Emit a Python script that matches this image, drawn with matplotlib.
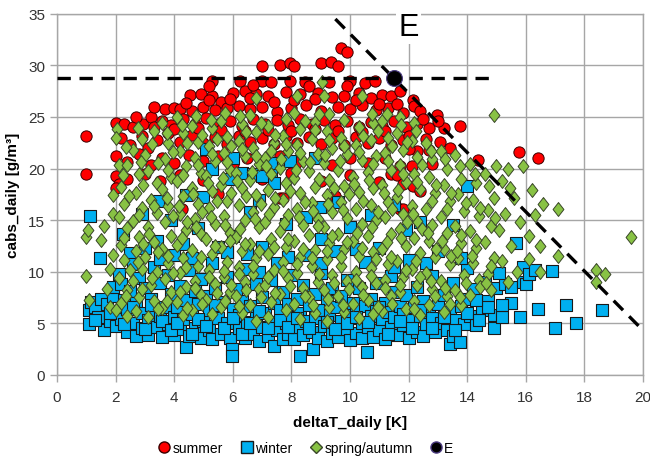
import numpy as np
import matplotlib
matplotlib.use("Agg")
import matplotlib.pyplot as plt
from matplotlib.lines import Line2D

plt.rcParams['font.family'] = ['Liberation Sans Narrow', 'Liberation Sans', 'DejaVu Sans']

# summer (red circles)
summer = [
    (9.7, 31.7), (9.9, 31.3), (9.0, 30.2), (9.35, 30.3), (9.6, 29.9), (7.0, 29.9), (7.6, 30.0), (7.95, 30.2), (8.1, 29.9),
    (5.3, 28.5), (6.25, 28.5), (7.0, 28.5), (7.3, 28.4), (7.95, 28.5), (8.45, 28.4), (8.6, 28.0), (9.3, 28.4), (10.0, 28.5),
    (10.5, 28.3), (10.85, 28.5), (9.9, 28.0),
    (4.55, 27.1), (4.9, 27.2), (5.3, 27.0), (5.6, 26.5), (6.0, 27.3), (6.4, 27.5), (6.8, 27.2), (7.2, 27.0), (7.8, 27.4),
    (8.3, 27.2), (8.9, 27.3), (9.4, 26.9), (10.3, 27.3), (10.7, 26.8), (11.1, 27.1), (11.4, 27.0), (11.7, 27.5), (12.15, 26.6),
    (12.2, 26.1),
    (3.7, 25.8), (4.0, 25.9), (4.2, 25.8), (4.6, 25.6), (5.0, 26.0), (5.4, 25.7), (5.8, 25.9), (6.2, 26.1), (6.6, 25.8),
    (7.0, 26.0), (7.5, 25.5), (8.0, 25.9), (8.5, 26.2), (9.0, 25.6), (9.6, 26.0), (10.0, 25.8), (10.4, 26.2), (10.9, 25.7),
    (11.3, 25.9), (11.8, 25.4), (12.4, 25.6), (12.97, 25.2),
    (2.0, 24.4), (2.3, 24.3), (2.6, 24.0), (2.95, 24.3), (3.2, 25.0), (3.3, 24.0), (3.6, 24.6), (3.9, 24.2), (4.3, 24.8),
    (4.7, 24.3), (5.1, 24.9), (5.5, 24.3), (5.9, 24.6), (6.3, 24.1), (6.7, 24.8), (7.1, 24.3), (7.5, 24.7), (7.9, 24.2),
    (8.3, 24.8), (8.7, 24.3), (9.1, 24.7), (9.5, 24.2), (9.9, 24.6), (10.3, 24.0), (10.7, 24.5), (11.1, 24.1), (11.5, 24.6),
    (11.9, 24.0), (12.3, 24.3), (12.7, 23.9), (13.2, 23.9), (13.75, 24.1),
    (2.2, 23.0), (2.5, 22.3), (2.9, 23.2), (3.1, 22.0), (3.4, 22.8), (3.8, 23.4), (4.2, 22.6), (4.6, 23.3), (5.0, 22.5),
    (5.4, 23.1), (5.8, 22.4), (6.2, 23.2), (6.6, 22.6), (7.0, 23.0), (7.4, 22.4), (7.8, 23.2), (8.2, 22.5), (8.6, 23.1),
    (9.0, 22.4), (9.4, 23.0), (9.8, 22.3), (10.2, 23.1), (10.6, 22.5), (11.0, 23.0), (11.4, 22.3), (11.8, 22.8), (12.3, 21.7),
    (12.7, 21.8), (13.07, 22.6),
    (2.0, 21.2), (2.4, 20.6), (2.8, 21.4), (3.2, 20.3), (3.6, 21.0), (4.0, 20.5), (4.5, 21.3), (5.0, 20.7), (5.5, 21.2),
    (6.0, 20.4), (6.5, 21.0), (7.0, 20.5), (7.6, 21.2), (8.2, 20.6), (8.8, 21.0), (9.4, 20.3), (10.0, 21.0), (10.6, 20.5),
    (11.2, 21.0), (11.7, 20.2), (12.0, 21.9), (12.1, 20.2), (14.37, 20.8), (15.77, 21.6), (16.4, 21.0),
    (1.0, 19.5), (1.0, 23.2), (2.0, 19.3), (2.1, 18.5), (2.4, 19.0), (3.0, 19.5), (3.5, 18.8), (4.2, 19.4), (5.0, 18.9),
    (6.0, 19.2), (7.0, 19.0), (8.0, 19.6), (9.0, 18.8), (10.0, 19.4), (11.0, 18.7), (11.4, 19.5), (11.6, 19.4), (11.8, 18.5),
    (12.15, 18.3),
    (2.0, 18.1), (4.27, 16.1), (7.6, 17.1), (7.7, 17.1), (11.7, 16.1), (11.8, 16.1), (12.4, 17.8), (5.5, 17.5), (9.5, 17.3),
    (4.4, 26.4), (5.2, 26.6), (5.9, 26.7), (6.6, 26.8), (7.4, 26.5), (8.1, 26.6), (8.8, 26.7), (9.8, 27.0), (10.2, 26.6),
    (11.0, 26.3), (11.6, 26.3), (4.0, 23.8), (4.8, 23.9), (5.6, 23.7), (6.4, 23.6), (7.2, 23.7), (8.0, 23.6), (8.8, 23.8),
    (9.6, 23.6), (10.4, 23.5), (11.2, 23.6), (12.0, 23.2), (12.5, 24.8), (13.0, 24.6), (5.2, 28.0), (6.7, 28.1), (3.3, 26.0),
    (2.7, 25.0), (12.6, 22.9), (13.4, 22.0), (12.8, 20.4),
]

# winter (blue squares)
winter = [
    (1.1, 6.3), (1.15, 7.1), (1.1, 4.9), (1.3, 6.6), (1.4, 5.6), (1.5, 7.4), (1.47, 11.3), (1.13, 15.4),
    (1.6, 4.3), (1.7, 6.9), (1.8, 5.2), (1.9, 7.6), (1.9, 8.5), (2.0, 6.1), (2.0, 4.7),
    (2.1, 9.8), (2.2, 8.8), (2.2, 5.4), (2.3, 7.3), (2.25, 13.7), (2.4, 4.2), (2.4, 6.4), (2.5, 11.8), (2.5, 8.1),
    (2.6, 5.0), (2.7, 7.0), (2.7, 3.8), (2.8, 9.4), (2.9, 6.0), (2.9, 4.5), (3.0, 8.4), (3.0, 12.3),
    (3.1, 5.3), (3.1, 3.9), (3.2, 7.4), (3.3, 6.1), (3.3, 10.5), (3.4, 4.6), (3.5, 8.9), (3.5, 5.7), (3.4, 13.0),
    (3.6, 3.7), (3.7, 6.6), (3.8, 4.9), (3.8, 9.7), (3.9, 7.8), (4.0, 5.6), (4.0, 3.9), (4.0, 11.6),
    (4.1, 6.6), (4.2, 4.4), (4.2, 8.6), (4.3, 5.4), (4.4, 2.7), (4.4, 7.3), (4.5, 3.8), (4.5, 10.2), (4.3, 12.7),
    (4.6, 5.9), (4.7, 4.5), (4.7, 8.1), (4.8, 6.9), (4.9, 3.6), (4.9, 9.3), (5.0, 5.2), (5.0, 17.2),
    (5.1, 7.6), (5.2, 4.3), (5.2, 6.3), (5.3, 10.8), (5.3, 3.5), (5.4, 8.4), (5.5, 5.5), (5.5, 12.4), (5.3, 20.0),
    (5.6, 4.0), (5.7, 7.1), (5.8, 5.0), (5.8, 9.5), (5.9, 3.6), (5.97, 2.5), (5.97, 1.85), (6.0, 6.4), (6.0, 13.5), (5.9, 19.0),
    (6.1, 8.3), (6.2, 4.5), (6.2, 5.8), (6.3, 7.2), (6.4, 3.6), (6.4, 10.3), (6.5, 5.1), (6.5, 11.7), (6.3, 19.6),
    (6.6, 6.7), (6.7, 4.0), (6.8, 8.8), (6.8, 5.5), (6.9, 3.3), (7.0, 7.5), (7.0, 4.6), (7.0, 12.4), (6.9, 17.0),
    (7.1, 6.0), (7.2, 3.8), (7.3, 9.2), (7.3, 5.1), (7.4, 2.8), (7.4, 7.0), (7.5, 4.3), (7.5, 10.8), (7.3, 19.8), (7.4, 18.6),
    (7.6, 6.3), (7.7, 3.5), (7.7, 8.0), (7.8, 5.0), (7.9, 4.0), (7.9, 6.9), (8.0, 9.7), (8.0, 5.6), (7.8, 14.6),
    (8.1, 3.5), (8.2, 7.4), (8.2, 4.6), (8.3, 1.85), (8.3, 6.0), (8.4, 8.7), (8.4, 3.9), (8.5, 5.2), (8.5, 11.6),
    (8.6, 6.8), (8.7, 4.2), (8.74, 2.5), (8.8, 7.8), (8.8, 5.5), (8.9, 3.6), (9.0, 6.3), (9.0, 9.9), (9.0, 13.2),
    (9.1, 4.7), (9.2, 7.2), (9.2, 3.3), (9.3, 5.8), (9.4, 8.4), (9.4, 4.1), (9.5, 6.6), (9.5, 12.0),
    (9.6, 3.7), (9.7, 5.2), (9.7, 7.6), (9.8, 4.4), (9.9, 6.1), (9.9, 9.2), (10.0, 3.4), (10.0, 5.5), (10.0, 14.3),
    (10.1, 7.0), (10.2, 4.1), (10.2, 6.3), (10.3, 8.4), (10.4, 3.6), (10.4, 5.0), (10.5, 6.7), (10.5, 10.9),
    (10.58, 2.2), (10.6, 4.6), (10.7, 7.4), (10.7, 5.7), (10.8, 3.7), (10.9, 6.2), (10.9, 8.9), (11.0, 4.3), (11.0, 12.3),
    (11.1, 5.4), (11.2, 7.0), (11.2, 3.5), (11.3, 6.1), (11.4, 4.6), (11.4, 9.6), (11.5, 5.6), (11.5, 8.0),
    (11.6, 3.9), (11.7, 6.7), (11.8, 4.8), (11.8, 5.9), (11.9, 7.7), (12.0, 3.6), (12.0, 11.1), (11.9, 14.0),
    (12.1, 5.3), (12.2, 6.6), (12.3, 4.2), (12.3, 8.5), (12.4, 5.7), (12.5, 3.8), (12.5, 7.2),
    (12.6, 4.9), (12.7, 6.3), (12.8, 5.5), (12.8, 9.6), (12.9, 4.2), (13.0, 6.9), (13.0, 12.0),
    (13.1, 5.0), (13.2, 7.7), (13.3, 4.3), (13.4, 3.0), (13.4, 6.1), (13.5, 3.8), (13.5, 8.9),
    (13.6, 5.3), (13.75, 3.2), (13.8, 6.7), (13.9, 4.9), (14.0, 7.4), (14.0, 18.3), (14.0, 10.4),
    (14.1, 5.7), (14.2, 8.3), (14.3, 4.8), (14.5, 6.3), (14.6, 9.0), (14.7, 7.2), (14.9, 4.5), (14.9, 5.8), (15.0, 8.4),
    (15.2, 5.6), (15.3, 8.8), (15.5, 8.5), (15.67, 12.8), (15.8, 5.6), (15.9, 9.0), (16.0, 8.85),
    (16.4, 6.4), (16.9, 10.1), (17.0, 4.5), (17.37, 6.8), (17.7, 5.05), (18.6, 6.3),
    (5.1, 21.9), (6.0, 21.0), (6.7, 19.5), (7.0, 19.3), (7.3, 20.5), (7.95, 20.7), (8.8, 21.0), (8.98, 16.3), (3.45, 16.9),
    (4.4, 17.4), (2.9, 15.6), (3.9, 15.0), (6.6, 15.8), (8.5, 15.3), (9.6, 16.8), (10.7, 15.5), (11.5, 16.5), (12.4, 14.8),
    (13.5, 14.5), (4.8, 14.2),
    (1.3, 5.3), (1.8, 6.0), (2.3, 4.9), (2.6, 6.6), (3.0, 4.4), (3.2, 6.8), (3.6, 5.2), (3.9, 4.3), (4.1, 5.0), (4.6, 4.0),
    (4.8, 5.4), (5.1, 4.7), (5.4, 6.8), (5.7, 4.5), (6.0, 5.5), (6.3, 4.0), (6.6, 5.0), (6.9, 6.2), (7.2, 4.5), (7.6, 5.3),
    (7.9, 4.6), (8.2, 5.5), (8.6, 4.5), (8.9, 6.3), (9.2, 5.1), (9.5, 4.4), (9.9, 5.0), (10.2, 5.6), (10.6, 5.1), (11.0, 6.6),
    (11.3, 4.0), (11.7, 5.2), (12.1, 4.5), (12.4, 6.3), (12.8, 4.5), (13.2, 5.6), (13.6, 4.3), (14.0, 6.0), (14.4, 5.3),
    (14.7, 6.6), (2.6, 10.7), (3.5, 11.2), (4.6, 11.3), (5.8, 11.9), (6.9, 10.0), (7.9, 11.4), (9.0, 10.8), (10.2, 12.2),
    (11.5, 10.5), (12.6, 10.8), (13.8, 11.3), (15.1, 9.9), (15.9, 10.5), (15.5, 7.0), (15.2, 6.8), (14.3, 7.3), (16.1, 9.8),
    (16.3, 10.2),
]

# spring/autumn (green diamonds)
spring = [
    (1.0, 9.6), (1.1, 7.3), (1.0, 13.4), (1.05, 14.0), (1.6, 14.4), (1.5, 13.1), (1.9, 17.4), (1.9, 11.6), (1.8, 10.3),
    (1.8, 6.6), (1.9, 15.6), (1.7, 8.3),
    (2.05, 23.8), (2.0, 23.0), (2.1, 20.3), (2.4, 20.3), (2.2, 18.2), (2.3, 16.6), (2.1, 15.3), (2.4, 14.2), (2.2, 12.6),
    (2.3, 11.1), (2.1, 9.4), (2.4, 8.2), (2.2, 7.0), (2.0, 6.3), (2.4, 5.7),
    (2.9, 22.9), (2.6, 21.8), (2.8, 19.5), (2.7, 17.6), (2.9, 16.2), (2.6, 14.9), (2.8, 13.4), (2.7, 12.0), (2.9, 10.3),
    (2.6, 9.1), (2.8, 7.5), (2.7, 6.2),
    (3.0, 21.3), (3.3, 23.6), (3.1, 19.8), (3.4, 18.6), (3.2, 17.0), (3.4, 15.7), (3.1, 14.3), (3.3, 12.9), (3.0, 11.4),
    (3.4, 10.0), (3.2, 8.7), (3.3, 7.2), (3.1, 5.6),
    (3.6, 24.4), (3.8, 22.5), (3.7, 20.9), (3.9, 19.2), (3.6, 18.0), (3.8, 16.4), (3.7, 14.8), (3.9, 13.5), (3.6, 12.2),
    (3.8, 10.8), (3.7, 9.3), (3.9, 8.0), (3.6, 6.5),
    (4.1, 25.0), (4.3, 23.4), (4.2, 21.7), (4.4, 20.2), (4.1, 18.8), (4.3, 17.3), (4.2, 15.6), (4.4, 14.0), (4.1, 12.6),
    (4.3, 11.3), (4.2, 9.9), (4.4, 8.5), (4.1, 7.1), (4.3, 5.8),
    (4.6, 24.1), (4.8, 22.6), (4.7, 21.0), (4.9, 19.6), (4.6, 18.1), (4.8, 16.6), (4.7, 15.1), (4.9, 13.7), (4.6, 12.1),
    (4.8, 10.6), (4.7, 9.1), (4.9, 7.7), (4.6, 6.3),
    (5.3, 23.9), (5.2, 22.2), (5.4, 20.7), (5.1, 19.3), (5.3, 17.8), (5.2, 16.2), (5.4, 14.6), (5.1, 13.2),
    (5.3, 11.7), (5.2, 10.2), (5.4, 8.8), (5.1, 7.3), (5.3, 5.9),
    (5.6, 24.6), (5.8, 23.1), (5.7, 21.5), (5.9, 19.9), (5.6, 18.4), (5.8, 16.9), (5.7, 15.4), (5.9, 13.8), (5.6, 12.4),
    (5.8, 10.9), (5.7, 9.5), (5.9, 8.0), (5.6, 6.6),
    (6.3, 24.3), (6.2, 22.7), (6.4, 21.2), (6.1, 19.6), (6.3, 18.1), (6.2, 16.5), (6.4, 15.0), (6.1, 13.4),
    (6.3, 12.0), (6.2, 10.5), (6.4, 9.0), (6.1, 7.6), (6.3, 6.0),
    (6.6, 25.2), (6.8, 23.5), (6.7, 22.0), (6.9, 20.4), (6.6, 18.9), (6.8, 17.4), (6.7, 15.8), (6.9, 14.3), (6.6, 12.7),
    (6.8, 11.3), (6.7, 9.8), (6.9, 8.3), (6.6, 6.8), (6.8, 5.2), (6.8, 26.8),
    (7.2, 24.1), (7.4, 22.5), (7.1, 21.0), (7.3, 19.5), (7.2, 17.9), (7.4, 16.3), (7.1, 14.8),
    (7.3, 13.2), (7.2, 11.7), (7.4, 10.2), (7.1, 8.7), (7.3, 7.1), (7.2, 5.6),
    (7.8, 24.8), (7.7, 23.2), (7.9, 21.7), (7.6, 20.1), (7.8, 18.6), (7.7, 17.0), (7.9, 15.5), (7.6, 13.9),
    (7.8, 12.4), (7.7, 10.9), (7.9, 9.4), (7.6, 7.8), (7.8, 6.3),
    (8.2, 27.0), (8.1, 25.4), (8.3, 23.8), (8.2, 22.3), (8.4, 20.7), (8.1, 19.1), (8.3, 17.6), (8.2, 16.1), (8.4, 14.5),
    (8.1, 13.0), (8.3, 11.4), (8.2, 9.9), (8.4, 8.4), (8.1, 6.9), (8.3, 5.4),
    (8.8, 24.5), (8.7, 22.9), (8.9, 21.4), (8.6, 19.8), (8.8, 18.2), (8.7, 16.7), (8.9, 15.1), (8.6, 13.6),
    (8.8, 12.1), (8.7, 10.6), (8.9, 9.0), (8.6, 7.5), (8.8, 6.0),
    (9.05, 28.4), (9.1, 27.0), (9.3, 25.3), (9.2, 23.6), (9.4, 22.0), (9.1, 20.5), (9.3, 18.9), (9.2, 17.4), (9.4, 15.8),
    (9.1, 14.3), (9.3, 12.8), (9.2, 11.2), (9.4, 9.7), (9.1, 8.2), (9.3, 6.6), (9.2, 5.2),
    (9.8, 24.7), (9.7, 23.0), (9.9, 21.4), (9.6, 19.9), (9.8, 18.3), (9.7, 16.8), (9.9, 15.2), (9.6, 13.7),
    (9.8, 12.2), (9.7, 10.6), (9.9, 9.1), (9.6, 7.6), (9.8, 6.1),
    (10.4, 27.0), (10.3, 24.0), (10.2, 22.3), (10.4, 20.8), (10.1, 19.2), (10.3, 17.7), (10.2, 16.1),
    (10.4, 14.6), (10.1, 13.0), (10.3, 11.5), (10.2, 10.0), (10.4, 8.5), (10.1, 6.9), (10.3, 5.5),
    (10.8, 24.4), (10.7, 22.8), (10.9, 21.2), (10.6, 19.7), (10.8, 18.1), (10.7, 16.5), (10.9, 15.0),
    (10.6, 13.5), (10.8, 11.9), (10.7, 10.4), (10.9, 8.9), (10.6, 7.3), (10.8, 5.9),
    (11.1, 24.6), (11.3, 23.0), (11.2, 21.5), (11.4, 19.9), (11.1, 18.4), (11.3, 16.8), (11.2, 15.3),
    (11.4, 13.7), (11.1, 12.2), (11.3, 10.7), (11.2, 9.2), (11.4, 7.6), (11.1, 6.2),
    (11.7, 25.0), (11.6, 23.4), (11.8, 21.8), (11.7, 20.3), (11.9, 18.7), (11.6, 17.2), (11.8, 15.6), (11.7, 14.1),
    (11.9, 12.5), (11.6, 11.0), (11.8, 9.5), (11.7, 8.0), (11.9, 6.4),
    (12.2, 24.4), (12.1, 22.7), (12.3, 21.1), (12.2, 19.5), (12.4, 18.0), (12.1, 16.4), (12.3, 14.9), (12.2, 13.3),
    (12.4, 11.8), (12.1, 10.3), (12.3, 8.7), (12.2, 7.2), (12.4, 5.8),
    (12.6, 22.5), (12.8, 20.9), (12.7, 19.2), (12.9, 17.6), (12.6, 16.1), (12.8, 14.5), (12.7, 13.0), (12.9, 11.4),
    (12.6, 9.9), (12.8, 8.3), (12.7, 6.8),
    (13.1, 21.7), (13.3, 20.0), (13.2, 18.4), (13.4, 16.9), (13.1, 15.3), (13.3, 13.8), (13.2, 12.2), (13.4, 10.7),
    (13.1, 9.1), (13.3, 7.6), (13.2, 6.1),
    (13.6, 21.3), (13.8, 19.0), (13.7, 17.5), (13.9, 15.9), (13.6, 14.4), (13.8, 12.8), (13.7, 11.3), (13.9, 9.7),
    (13.6, 8.2), (13.8, 6.8),
    (14.1, 20.4), (14.3, 18.6), (14.2, 17.0), (14.4, 15.4), (14.1, 13.9), (14.3, 12.3), (14.2, 10.8), (14.4, 9.2), (14.1, 7.7),
    (14.9, 25.2), (14.6, 19.5), (14.9, 17.1), (14.7, 16.0), (14.8, 14.4), (14.6, 12.9), (14.9, 11.3), (14.7, 9.8), (14.8, 8.2),
    (15.0, 20.2), (15.4, 20.0), (15.2, 18.8), (15.45, 18.1), (15.6, 17.1), (15.3, 15.6), (15.1, 14.0), (15.5, 12.5),
    (15.2, 11.0), (15.7, 10.0), (15.9, 20.2), (15.4, 9.0), (15.8, 14.8),
    (16.1, 13.5), (16.3, 15.5), (16.1, 11.2), (16.5, 12.5), (16.5, 10.0), (17.1, 16.1), (17.1, 11.5), (18.4, 10.2),
    (18.7, 9.8), (18.4, 9.0), (19.6, 13.4), (16.2, 17.9), (16.6, 16.6),
    # second pass, points between the columns above
    (2.35, 22.1), (2.25, 19.4), (2.45, 17.3), (2.3, 13.3), (2.5, 10.2), (2.35, 7.6),
    (2.75, 23.9), (2.85, 20.6), (2.95, 18.4), (2.8, 15.5), (2.95, 12.7), (2.75, 10.9), (2.9, 8.3),
    (3.25, 22.4), (3.45, 20.5), (3.3, 16.4), (3.15, 13.7), (3.45, 11.9), (3.25, 9.4), (3.45, 6.4),
    (3.75, 23.4), (3.95, 21.6), (3.8, 19.9), (3.75, 17.1), (3.95, 15.4), (3.8, 11.5), (3.95, 9.9), (3.75, 7.2),
    (4.25, 24.2), (4.45, 22.5), (4.3, 19.4), (4.15, 16.4), (4.45, 14.8), (4.25, 13.3), (4.4, 10.5), (4.2, 8.0), (4.45, 6.5),
    (4.75, 25.1), (4.95, 23.3), (4.8, 20.3), (4.65, 17.5), (4.95, 15.8), (4.75, 14.3), (4.9, 11.4), (4.7, 8.4), (4.95, 6.9),
    (5.25, 24.7), (5.45, 22.9), (5.3, 21.4), (5.15, 18.6), (5.45, 16.9), (5.25, 15.3), (5.4, 12.5), (5.2, 9.5), (5.45, 7.9),
    (5.75, 25.4), (5.95, 22.2), (5.8, 20.6), (5.65, 19.1), (5.95, 17.6), (5.75, 14.5), (5.9, 13.0), (5.7, 10.1),
    (5.95, 8.7), (5.75, 7.2),
    (6.25, 25.1), (6.45, 23.5), (6.3, 21.9), (6.15, 18.8), (6.45, 17.3), (6.25, 14.1), (6.4, 12.7), (6.2, 9.8),
    (6.45, 8.2), (6.2, 6.7),
    (6.95, 24.4), (6.8, 21.2), (6.65, 19.7), (6.95, 16.6), (6.75, 15.1), (6.9, 12.0), (6.7, 10.6), (6.95, 7.5),
    (7.45, 23.3), (7.3, 21.7), (7.15, 20.2), (7.45, 17.1), (7.25, 15.6), (7.4, 12.4), (7.2, 9.5), (7.45, 7.9),
    (7.8, 22.4), (7.65, 20.9), (7.95, 17.8), (7.75, 14.7), (7.9, 13.2), (7.7, 10.1), (7.95, 8.6),
    (8.45, 24.6), (8.3, 21.5), (8.15, 19.9), (8.45, 16.8), (8.25, 15.3), (8.4, 12.2), (8.2, 10.7), (8.45, 7.6),
    (8.95, 25.3), (8.8, 23.7), (8.65, 20.6), (8.95, 19.0), (8.75, 15.9), (8.9, 14.4), (8.7, 11.3),
    (8.95, 9.8), (8.75, 6.8),
    (9.3, 22.8), (9.15, 21.3), (9.45, 18.1), (9.25, 16.6), (9.4, 13.5), (9.2, 12.0),
    (9.45, 8.9), (9.25, 7.4),
    (9.8, 22.2), (9.65, 20.7), (9.95, 17.5), (9.75, 16.0), (9.9, 12.9), (9.7, 11.4),
    (9.95, 8.3), (9.75, 6.8),
    (10.45, 23.2), (10.3, 21.6), (10.15, 18.5), (10.45, 16.9), (10.25, 13.8), (10.4, 12.3), (10.2, 9.2),
    (10.45, 7.7),
    (10.75, 25.3), (10.95, 23.6), (10.8, 20.4), (10.65, 18.9), (10.95, 15.8), (10.75, 14.3), (10.9, 11.2), (10.7, 9.6),
    (10.95, 6.6),
    (11.25, 25.3), (11.45, 22.2), (11.3, 20.7), (11.15, 17.6), (11.45, 16.1), (11.25, 12.9), (11.4, 11.4), (11.2, 8.4),
    (11.45, 6.9),
    (11.75, 24.2), (11.95, 22.6), (11.8, 19.5), (11.65, 17.9), (11.95, 14.8), (11.75, 13.3), (11.9, 10.2), (11.7, 8.7),
    (12.25, 23.6), (12.45, 20.3), (12.3, 18.7), (12.15, 15.6), (12.45, 14.1), (12.25, 11.0), (12.4, 9.5), (12.2, 6.4),
    (12.75, 21.7), (12.95, 18.4), (12.8, 16.9), (12.65, 13.8), (12.95, 12.2), (12.75, 9.1), (12.9, 7.6),
    (13.25, 20.9), (13.45, 17.6), (13.3, 16.1), (13.15, 13.0), (13.45, 11.5), (13.25, 8.4), (13.4, 6.9),
    (13.75, 20.2), (13.95, 16.7), (13.8, 13.6), (13.65, 12.0), (13.95, 8.9), (13.75, 7.5),
    (14.25, 19.5), (14.45, 16.2), (14.3, 13.1), (14.15, 11.5), (14.45, 8.5),
    (14.75, 18.3), (14.95, 15.2), (14.8, 10.6), (14.65, 8.9),
]

point_e = (11.5, 28.8)
limit_h_x = [0, 15]
limit_h_y = [28.8, 28.8]
limit_d_x = [9.5, 19.9]
limit_d_y = [34.5, 4.6]

summer_x, summer_y = np.array(summer).T
winter_x, winter_y = np.array(winter).T
spring_x, spring_y = np.array(spring).T

diamond = [(0, 1), (0.78, 0), (0, -1), (-0.78, 0), (0, 1)]

fig = plt.figure(figsize=(6.5, 4.64), dpi=100)
ax = fig.add_axes([0.0877, 0.19, 0.9015, 0.778])

ax.scatter(summer_x, summer_y, s=66, marker='o', c='#FF0000', edgecolors='#3a0000', linewidths=0.7, zorder=3)
ax.scatter(winter_x, winter_y, s=72, marker='s', c='#00B0F0', edgecolors='#1a1a1a', linewidths=0.8, zorder=4)
ax.scatter(spring_x, spring_y, s=100, marker=diamond, c='#88C244', edgecolors='#394628', linewidths=0.7, zorder=5)

ax.plot(limit_h_x, limit_h_y, color='black', lw=2.4, dashes=(4, 2.6), zorder=6)
ax.plot(limit_d_x, limit_d_y, color='black', lw=2.4, dashes=(4, 2.6), zorder=6)
ax.scatter([point_e[0]], [point_e[1]], s=130, c='black', edgecolors='#4b3b80', linewidths=0.8, zorder=7)
ax.text(12.0, 33.7, 'E', fontsize=22, ha='center', va='center', zorder=8,
        bbox=dict(facecolor='white', edgecolor='none', pad=1.5), clip_on=False)

ax.set_xlim(0, 20)
ax.set_ylim(0, 35)
ax.set_xticks(np.arange(0, 21, 2))
ax.set_yticks(np.arange(0, 36, 5))
ax.grid(True, color='#a6a6a6', lw=1.0)
ax.set_axisbelow(True)
for sp in ax.spines.values():
    sp.set_color('#a6a6a6')
    sp.set_linewidth(1.0)
ax.tick_params(axis='both', colors='#a6a6a6', labelcolor='#333333', labelsize=11, length=5, width=1.0)
ax.tick_params(axis='x', pad=6)

ax.set_xlabel('deltaT_daily [K]', fontsize=11, fontweight='bold', labelpad=8)
ax.set_ylabel('cabs_daily [g/m³]', fontsize=11, fontweight='bold', labelpad=6)

handles = [
    Line2D([], [], ls='none', marker='o', ms=8, mfc='#FF0000', mec='#3a0000', label='summer'),
    Line2D([], [], ls='none', marker='s', ms=8, mfc='#00B0F0', mec='#1a1a1a', label='winter'),
    Line2D([], [], ls='none', marker='D', ms=6, mfc='#88C244', mec='#394628', label='spring/autumn'),
    Line2D([], [], ls='none', marker='o', ms=8, mfc='black', mec='#4b3b80', label='E'),
]
fig.legend(handles=handles, loc='lower center', bbox_to_anchor=(0.47, -0.01), ncol=4, frameon=False,
           fontsize=10, handletextpad=0.1, columnspacing=1.2, handlelength=1.0)

fig.savefig('out.png', dpi=100)
